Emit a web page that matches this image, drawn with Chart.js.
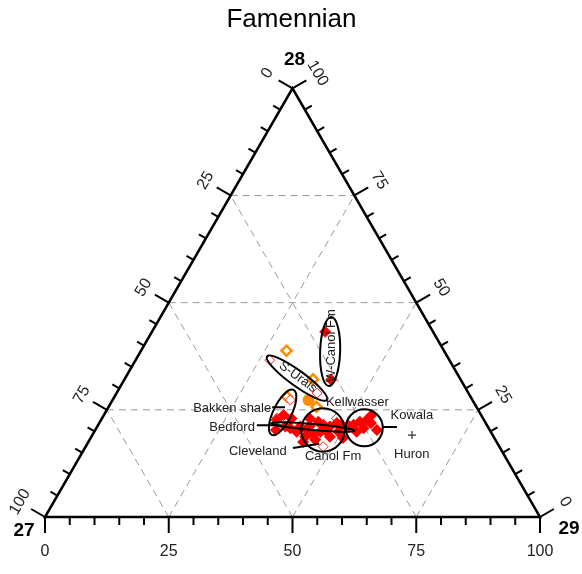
<!DOCTYPE html>
<html>
<head>
<meta charset="utf-8">
<script src="https://cdn.jsdelivr.net/npm/chart.js@4"></script>
<style>
  html, body { margin: 0; padding: 0; background: #ffffff; }
  canvas { display: block; }
</style>
</head>
<body>
<canvas id="c" width="582" height="574"></canvas>
<script>
// Compositions in percent: component 29 (bottom axis) and component 28 (apex);
// component 27 is the remainder, 100 - c29 - c28.
const redSolid29 = [35.0, 41.8, 42.0, 44.1, 45.5, 47.0, 48.0, 49.2, 42.7, 44.6, 43.2, 45.6, 48.2, 49.3,
                    51.6, 52.5, 54.0, 54.1, 56.9, 53.0, 53.7, 36.3, 38.3, 35.5, 39.2, 40.9, 38.0, 41.0, 36.5, 43.4,
                    45.7, 46.7, 51.0, 50.8, 42.9, 54.9];
const redSolid28 = [43.2, 32.0, 23.0, 22.2, 21.5, 21.1, 21.9, 21.5, 20.3, 19.1, 18.7, 18.0, 18.7, 19.9,
                    21.5, 22.2, 20.7, 23.8, 20.3, 19.9, 22.6, 23.8, 23.0, 22.6, 20.7, 19.9, 21.1, 21.1, 20.3, 17.5,
                    19.8, 20.1, 18.4, 21.2, 21.2, 21.9];
const redOpen29 = [47.4, 48.0, 27.1, 40.5, 35.3, 35.9];
const redOpen28 = [23.0, 16.4, 36.6, 28.9, 23.1, 27.3];
const orangeOpen29 = [29.4, 38.1, 34.8, 42.0];
const orangeOpen28 = [38.8, 32.1, 28.1, 25.7];
const orangeDot29 = [39.6];
const orangeDot28 = [27.3];
const huron29 = [64.6];
const huron28 = [19.1];

// Axis ticks
const majorTicks = [0, 25, 50, 75, 100];
const minorStep = 5;
const gridLevels = [25, 50, 75];

// Formation fields: centre (c29, c28), semi-axes in percent of an edge, tilt in degrees
const regionNames = ['W-Canol Fm', 'S-Urals', 'Bakken shale', 'Bedford', 'Canol Fm', 'Kowala'];
const regionC29 = [38.3, 34.7, 35.8, 43.6, 46.0, 54.1];
const regionC28 = [38.6, 32.4, 24.4, 21.0, 20.3, 20.8];
const regionMajor = [6.97, 7.47, 5.05, 8.50, 4.38, 3.74];
const regionMinor = [2.02, 1.55, 1.85, 0.60, 4.38, 3.74];
const regionTilt = [88, -36, 64, -5, 0, 0];

const toXY = (a29, a28) => a29.map((v, i) => ({ x: v + a28[i] / 2, y: a28[i] }));

const FONT = '"Liberation Sans", Arial, Helvetica, sans-serif';

const ternaryFrame = {
  id: 'ternaryFrame',
  beforeDatasetsDraw(chart) {
    const ctx = chart.ctx, xs = chart.scales.x, ys = chart.scales.y;
    const P = (a29, a28) => ({ x: xs.getPixelForValue(a29 + a28 / 2), y: ys.getPixelForValue(a28) });
    const seg = (a, b) => { ctx.beginPath(); ctx.moveTo(a.x, a.y); ctx.lineTo(b.x, b.y); ctx.stroke(); };

    // dashed grid
    ctx.save();
    ctx.strokeStyle = '#9a9a9a';
    ctx.lineWidth = 1;
    ctx.setLineDash([7, 5]);
    for (const g of gridLevels) {
      seg(P(0, g), P(100 - g, g));
      seg(P(g, 0), P(g, 100 - g));
      seg(P(100 - g, 0), P(0, 100 - g));
    }
    ctx.restore();

    // ticks
    ctx.save();
    ctx.strokeStyle = '#000';
    ctx.lineWidth = 2;
    const c30 = Math.cos(Math.PI / 6), s30 = 0.5;
    for (let v = 0; v <= 100; v += minorStep) {
      const len = majorTicks.includes(v) ? 16 : 8;
      let p = P(v, 0);                       // bottom axis, component 29
      seg(p, { x: p.x, y: p.y + len });
      p = P(0, 100 - v);                     // left axis, component 27
      seg(p, { x: p.x - c30 * len, y: p.y - s30 * len });
      p = P(100 - v, v);                     // right axis, component 28
      seg(p, { x: p.x + c30 * len, y: p.y - s30 * len });
    }
    ctx.restore();

    // triangle
    ctx.save();
    ctx.strokeStyle = '#000';
    ctx.lineWidth = 2.5;
    ctx.lineJoin = 'miter';
    const A = P(0, 0), B = P(100, 0), C = P(0, 100);
    ctx.beginPath();
    ctx.moveTo(A.x, A.y); ctx.lineTo(B.x, B.y); ctx.lineTo(C.x, C.y); ctx.closePath();
    ctx.stroke();
    ctx.restore();

    // tick labels
    ctx.save();
    ctx.fillStyle = '#222';
    ctx.font = '16px ' + FONT;
    ctx.textAlign = 'center';
    ctx.textBaseline = 'middle';
    for (const v of majorTicks) {
      let p = P(v, 0);
      ctx.fillText(String(v), p.x, p.y + 35);
      p = P(0, 100 - v);
      ctx.save(); ctx.translate(p.x - 25, p.y - 15); ctx.rotate(-Math.PI / 3);
      ctx.fillText(String(v), 0, 0); ctx.restore();
      p = P(100 - v, v);
      ctx.save(); ctx.translate(p.x + 25, p.y - 15); ctx.rotate(Math.PI / 3);
      ctx.fillText(String(v), 0, 0); ctx.restore();
    }
    // vertex names
    ctx.fillStyle = '#000';
    ctx.font = 'bold 19px ' + FONT;
    ctx.fillText('28', C.x + 2, C.y - 29);
    ctx.fillText('27', A.x - 21, A.y + 14);
    ctx.fillText('29', B.x + 29, B.y + 12);
    // title
    ctx.font = '26px ' + FONT;
    ctx.fillText('Famennian', C.x - 1, 20);
    ctx.restore();
  },
  afterDatasetsDraw(chart) {
    const ctx = chart.ctx, xs = chart.scales.x, ys = chart.scales.y;
    const P = (a29, a28) => ({ x: xs.getPixelForValue(a29 + a28 / 2), y: ys.getPixelForValue(a28) });
    const unit = Math.abs(xs.getPixelForValue(1) - xs.getPixelForValue(0));
    const XY = (x, y) => ({ x: xs.getPixelForValue(x), y: ys.getPixelForValue(y) });
    const seg = (a, b) => { ctx.beginPath(); ctx.moveTo(a.x, a.y); ctx.lineTo(b.x, b.y); ctx.stroke(); };

    ctx.save();
    ctx.strokeStyle = '#000';
    ctx.lineWidth = 2;
    regionNames.forEach((name, i) => {
      const c = P(regionC29[i], regionC28[i]);
      ctx.beginPath();
      ctx.ellipse(c.x, c.y, regionMajor[i] * unit, regionMinor[i] * unit,
                  -regionTilt[i] * Math.PI / 180, 0, Math.PI * 2);
      ctx.stroke();
    });

    // leader lines (cartesian plot units)
    seg(XY(45.9, 25.6), XY(48.5, 25.6));   // Bakken shale
    seg(XY(42.8, 21.4), XY(47.7, 21.4));   // Bedford
    seg(XY(50.1, 16.1), XY(55.4, 17.1));   // Cleveland
    seg(XY(68.3, 21.0), XY(71.1, 21.0));   // Kowala
    ctx.restore();

    // labels
    ctx.save();
    ctx.fillStyle = '#222';
    ctx.font = '13px ' + FONT;
    ctx.textAlign = 'center';
    ctx.textBaseline = 'middle';
    let p = P(regionC29[0], regionC28[0]);
    ctx.save(); ctx.translate(p.x + 1.5, p.y - 6); ctx.rotate(-Math.PI / 2);
    ctx.fillText('W-Canol Fm', 0, 0); ctx.restore();
    p = P(regionC29[1], regionC28[1]);
    ctx.save(); ctx.translate(p.x + 1, p.y - 1); ctx.rotate(36 * Math.PI / 180);
    ctx.fillText('S-Urals', 0, 0); ctx.restore();

    const text = (t, x, y, align) => {
      const q = XY(x, y);
      ctx.textAlign = align || 'center';
      ctx.fillText(t, q.x, q.y);
    };
    text('Kellwasser', 63.1, 26.8);
    text('Bakken shale', 45.7, 25.4, 'right');
    text('Bedford', 37.8, 21.0);
    text('Cleveland', 43.0, 15.4);
    text('Canol Fm', 58.2, 14.2);
    text('Kowala', 74.1, 23.8);
    text('Huron', 74.1, 14.7);
    ctx.restore();
  }
};

new Chart(document.getElementById('c'), {
  type: 'scatter',
  data: {
    datasets: [
      { label: 'red', data: toXY(redSolid29, redSolid28), pointStyle: 'rectRot', pointRadius: 6,
        backgroundColor: '#ff0000', borderColor: '#ff0000', borderWidth: 0 },
      { label: 'red open', data: toXY(redOpen29, redOpen28), pointStyle: 'rectRot', pointRadius: 5,
        backgroundColor: '#ffffff', borderColor: '#ff2020', borderWidth: 1 },
      { label: 'orange open', data: toXY(orangeOpen29, orangeOpen28), pointStyle: 'rectRot', pointRadius: 5,
        backgroundColor: '#ffffff', borderColor: '#ff8c00', borderWidth: 2.5 },
      { label: 'orange', data: toXY(orangeDot29, orangeDot28), pointStyle: 'circle', pointRadius: 6,
        backgroundColor: '#ff8c00', borderColor: '#ff8c00', borderWidth: 0 },
      { label: 'Huron', data: toXY(huron29, huron28), pointStyle: 'cross', pointRadius: 4,
        backgroundColor: '#333', borderColor: '#333', borderWidth: 1.2 }
    ]
  },
  options: {
    responsive: false,
    animation: false,
    events: [],
    layout: { padding: 0, autoPadding: false },
    plugins: { legend: { display: false }, title: { display: false }, tooltip: { enabled: false } },
    scales: {
      x: { type: 'linear', min: -9.0909, max: 108.485, display: false },
      y: { type: 'linear', min: -13.296, max: 120.597, display: false }
    }
  },
  plugins: [ternaryFrame]
});
</script>
</body>
</html>
